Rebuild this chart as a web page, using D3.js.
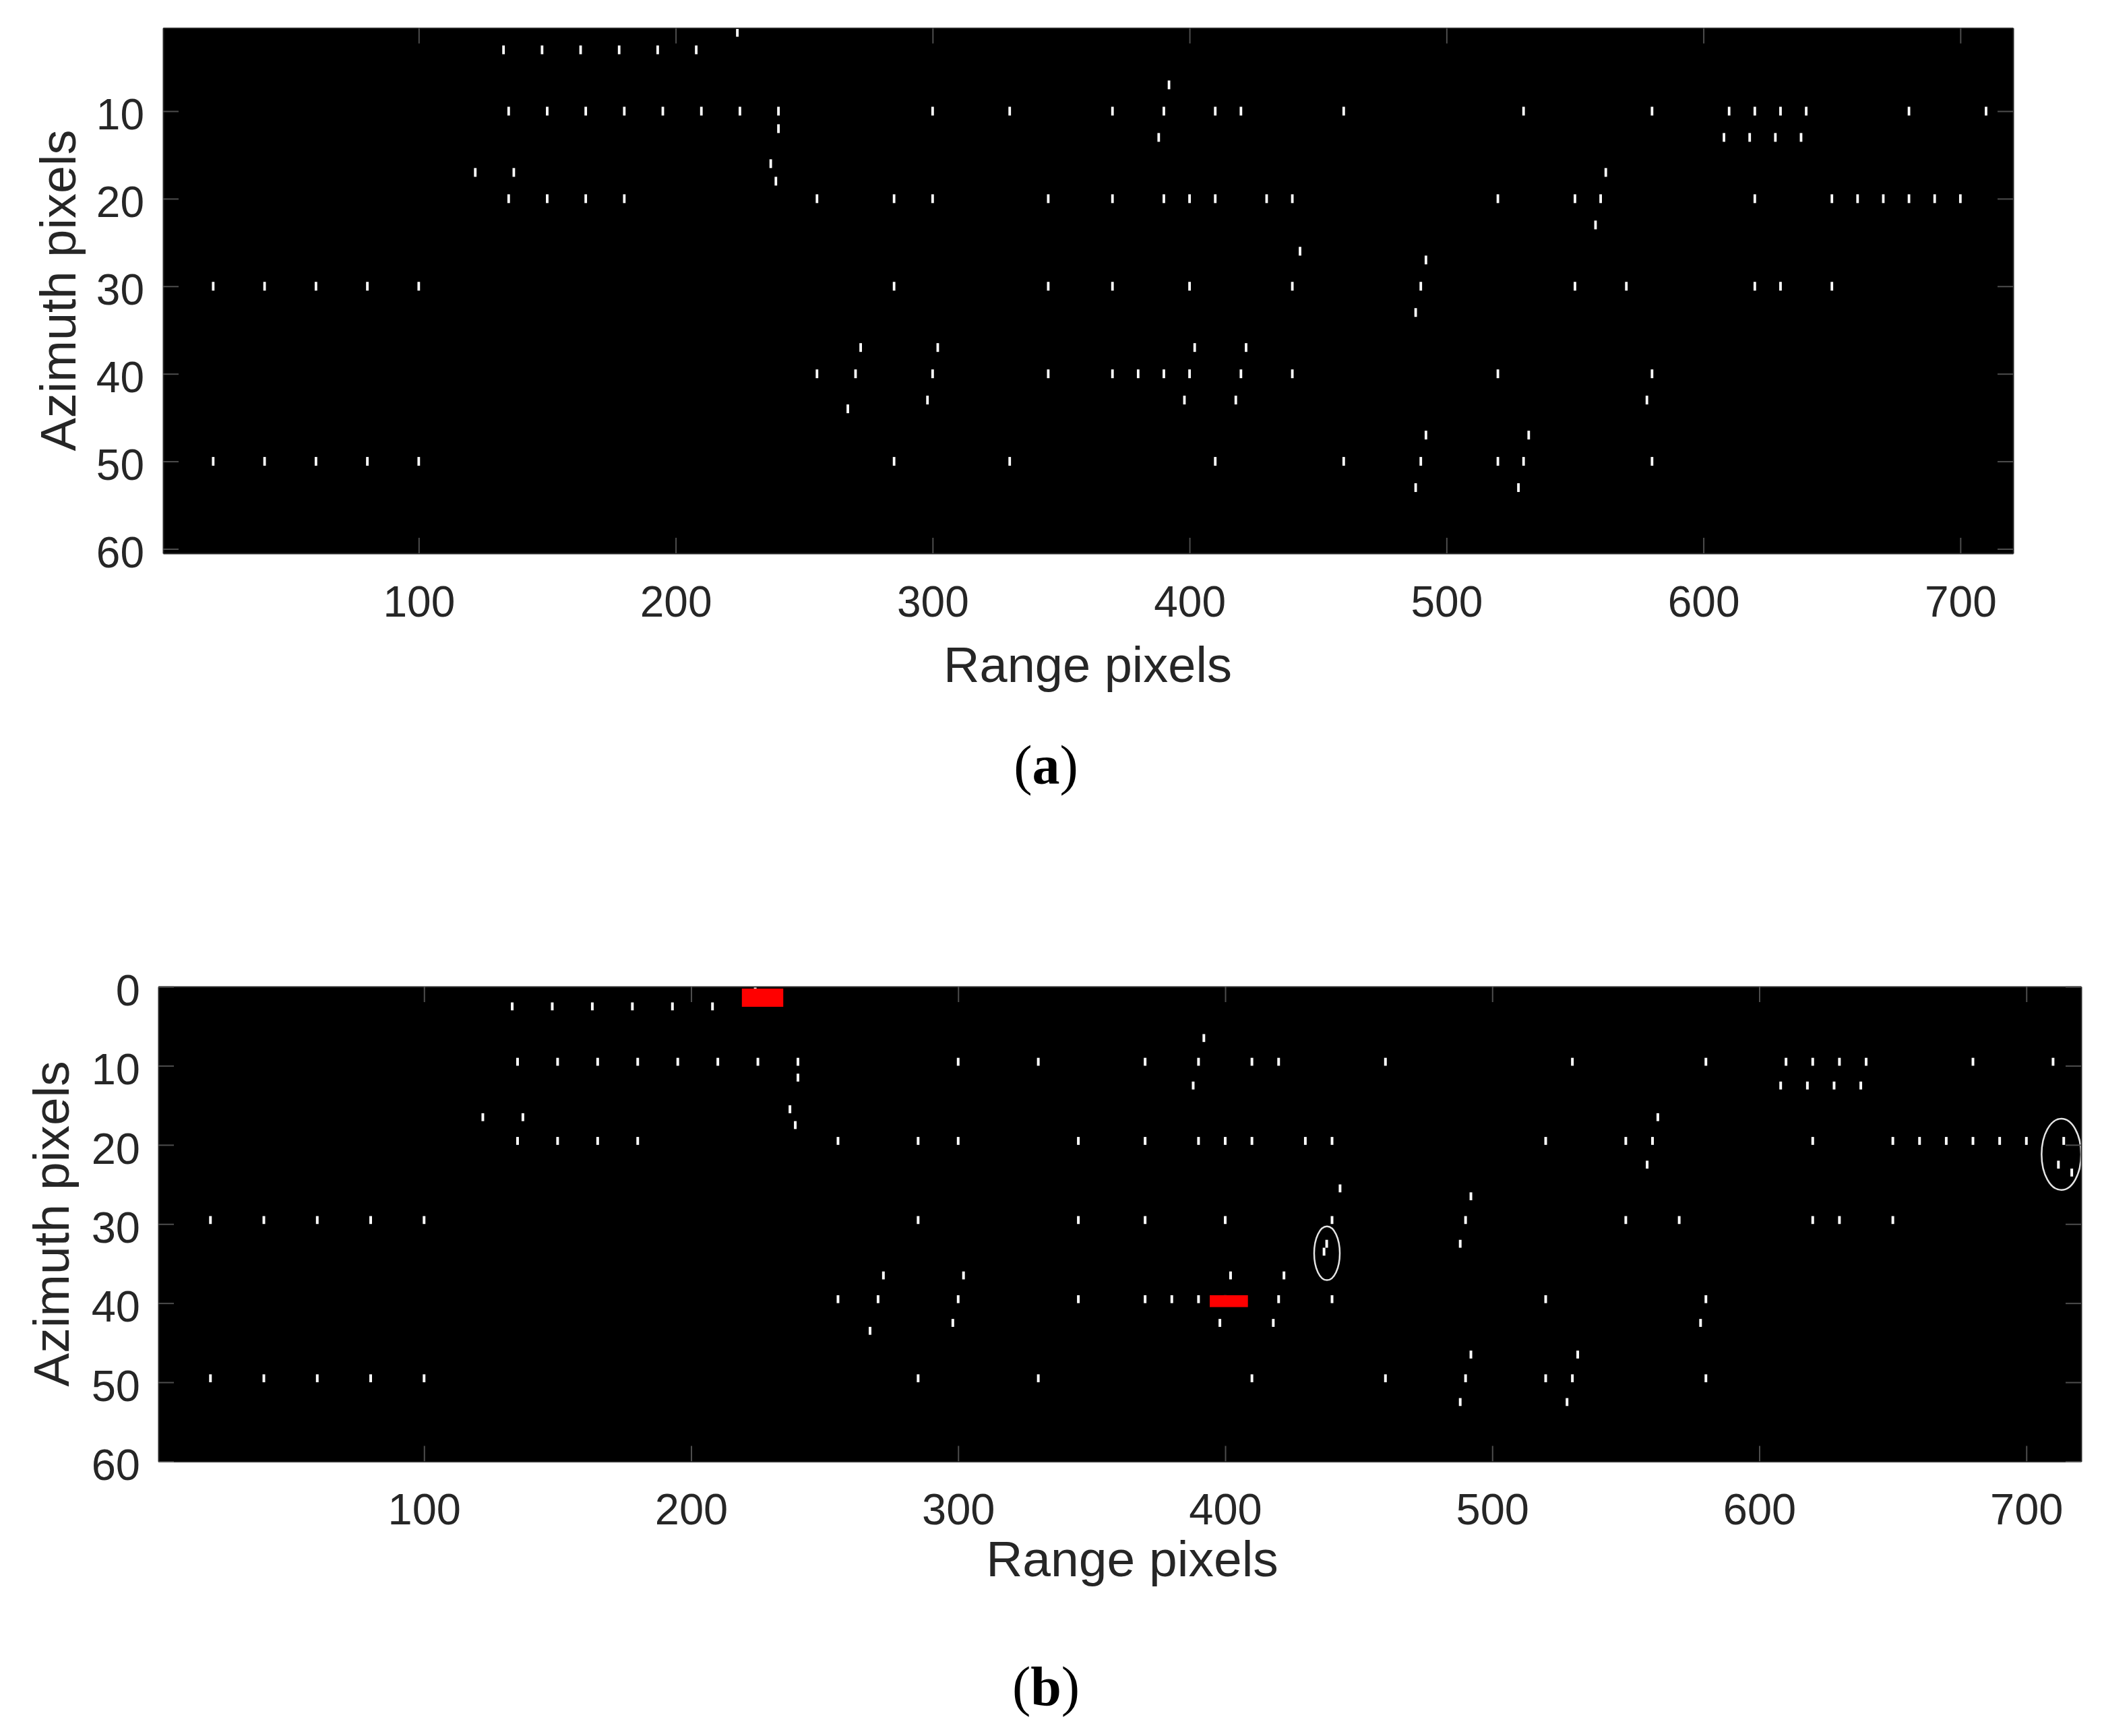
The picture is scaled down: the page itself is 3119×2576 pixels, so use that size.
<!DOCTYPE html>
<html>
<head>
<meta charset="utf-8">
<script src="https://cdn.jsdelivr.net/npm/d3@7"></script>
<style>
  body { margin: 0; background: #fff; }
  svg { display: block; }
</style>
</head>
<body>
<svg id="fig" width="3119" height="2576"></svg>
<script>
// axis ticks
var rangeTicks = [100, 200, 300, 400, 500, 600, 700];
var azTicksA = [10, 20, 30, 40, 50, 60];
var azTicksB = [0, 10, 20, 30, 40, 50, 60];

// bright pixels of panel (a): [range pixel, azimuth pixel]
var targetsA = [
  [224, 1],
  [133, 3], [148, 3], [163, 3], [178, 3], [193, 3], [208, 3],
  [392, 7],
  [135, 10], [150, 10], [165, 10], [180, 10], [195, 10], [210, 10], [225, 10], [240, 10],
  [300, 10], [330, 10], [370, 10], [390, 10], [410, 10], [420, 10], [460, 10], [530, 10],
  [580, 10], [610, 10], [620, 10], [630, 10], [640, 10], [680, 10], [710, 10],
  [240, 12],
  [388, 13], [608, 13], [618, 13], [628, 13], [638, 13],
  [237, 16],
  [122, 17], [137, 17], [562, 17],
  [239, 18],
  [135, 20], [150, 20], [165, 20], [180, 20], [255, 20], [285, 20], [300, 20], [345, 20],
  [370, 20], [390, 20], [400, 20], [410, 20], [430, 20], [440, 20], [520, 20], [550, 20],
  [560, 20], [620, 20], [650, 20], [660, 20], [670, 20], [680, 20], [690, 20], [700, 20],
  [558, 23],
  [443, 26],
  [492, 27],
  [20, 30], [40, 30], [60, 30], [80, 30], [100, 30], [285, 30], [345, 30], [370, 30],
  [400, 30], [440, 30], [490, 30], [550, 30], [570, 30], [620, 30], [630, 30], [650, 30],
  [488, 33],
  [272, 37], [302, 37], [402, 37], [422, 37],
  [255, 40], [270, 40], [300, 40], [345, 40], [370, 40], [380, 40], [390, 40], [400, 40],
  [420, 40], [440, 40], [520, 40], [580, 40],
  [298, 43], [398, 43], [418, 43], [578, 43],
  [267, 44],
  [492, 47], [532, 47],
  [20, 50], [40, 50], [60, 50], [80, 50], [100, 50], [285, 50], [330, 50], [410, 50],
  [460, 50], [490, 50], [520, 50], [530, 50], [580, 50],
  [488, 53], [528, 53]
];

// extra pixels that only show up in panel (b)
var newTargetsB = [[714, 20], [712, 23], [717, 24], [438, 33], [437, 34]];

// red boxes in (b): [range from, range to, azimuth from, azimuth to]
var redBoxesB = [[219, 234.5, 0.25, 2.55], [394.2, 408.5, 39.0, 40.5]];

// white ellipses in (b): [range centre, azimuth centre, range radius, azimuth radius]
var circlesB = [[438.1, 33.7, 4.8, 3.4], [713.1, 21.2, 7.4, 4.5]];

var svg = d3.select("#fig");
svg.append("rect").attr("width", 3119).attr("height", 2576).attr("fill", "#fff");

var sans = "'Liberation Sans', Arial, Helvetica, sans-serif";
var axisColor = "#262626";

function drawPanel(cfg) {
  var g = svg.append("g").attr("class", "panel " + cfg.name);

  var x = d3.scaleLinear().domain([0.5, 720.5]).range([cfg.left, cfg.right]),
      y = d3.scaleLinear().domain(cfg.yDomain).range([cfg.top, cfg.bottom]);

  g.append("clipPath").attr("id", "clip-" + cfg.name)
    .append("rect")
      .attr("x", cfg.left).attr("y", cfg.top)
      .attr("width", cfg.right - cfg.left).attr("height", cfg.bottom - cfg.top);

  // black image background
  g.append("rect")
      .attr("x", cfg.left).attr("y", cfg.top)
      .attr("width", cfg.right - cfg.left).attr("height", cfg.bottom - cfg.top)
      .attr("fill", "#000");

  // one white cell per bright pixel
  g.append("g").selectAll("rect")
      .data(cfg.points)
    .enter().append("rect")
      .attr("x", function(d) { return x(d[0] - 0.5); })
      .attr("width", function(d) { return x(d[0] + 0.5) - x(d[0] - 0.5); })
      .attr("y", function(d) { return y(d[1] - cfg.cellShift); })
      .attr("height", function(d) { return y(d[1] - cfg.cellShift + 1) - y(d[1] - cfg.cellShift); })
      .attr("fill", "#fff");

  var over = g.append("g").attr("clip-path", "url(#clip-" + cfg.name + ")");

  over.selectAll("rect.box")
      .data(cfg.boxes || [])
    .enter().append("rect")
      .attr("class", "box")
      .attr("x", function(d) { return x(d[0]); })
      .attr("width", function(d) { return x(d[1]) - x(d[0]); })
      .attr("y", function(d) { return y(d[2]); })
      .attr("height", function(d) { return y(d[3]) - y(d[2]); })
      .attr("fill", "#ff0000");

  over.selectAll("ellipse")
      .data(cfg.circles || [])
    .enter().append("ellipse")
      .attr("cx", function(d) { return x(d[0]); })
      .attr("cy", function(d) { return y(d[1]); })
      .attr("rx", function(d) { return x(d[0] + d[2]) - x(d[0]); })
      .attr("ry", function(d) { return y(d[1] + d[3]) - y(d[1]); })
      .attr("fill", "none")
      .attr("stroke", "#e4e4e4")
      .attr("stroke-width", 2.5);

  // axes, ticks point inward like matlab
  var tl = 23;
  var bottomAxis = g.append("g")
      .attr("transform", "translate(0," + cfg.bottom + ")")
      .call(d3.axisBottom(x).tickValues(rangeTicks).tickSizeInner(-tl).tickSizeOuter(0).tickPadding(cfg.xPad));
  var topAxis = g.append("g")
      .attr("transform", "translate(0," + cfg.top + ")")
      .call(d3.axisTop(x).tickValues(rangeTicks).tickSizeInner(-tl).tickSizeOuter(0).tickFormat(""));
  var leftAxis = g.append("g")
      .attr("transform", "translate(" + cfg.left + ",0)")
      .call(d3.axisLeft(y).tickValues(cfg.yTicks).tickSizeInner(-tl).tickSizeOuter(0).tickPadding(cfg.yPad));
  var rightAxis = g.append("g")
      .attr("transform", "translate(" + cfg.right + ",0)")
      .call(d3.axisRight(y).tickValues(cfg.yTicks).tickSizeInner(-tl).tickSizeOuter(0).tickFormat(""));

  [bottomAxis, topAxis, leftAxis, rightAxis].forEach(function(a) {
    a.attr("font-family", sans).attr("font-size", cfg.tickFont);
    a.selectAll(".tick line").attr("stroke", "#4d4d4d").attr("stroke-width", 2);
    a.select(".domain").attr("stroke", axisColor).attr("stroke-width", 2);
    a.selectAll("text").attr("fill", axisColor);
  });
  leftAxis.selectAll("text").attr("dy", "0.42em");

  g.append("text")
      .attr("x", cfg.xLabelX).attr("y", cfg.xLabelY)
      .attr("text-anchor", "middle")
      .attr("font-family", sans).attr("font-size", cfg.labelFont)
      .attr("fill", axisColor)
      .text("Range pixels");

  g.append("text")
      .attr("transform", "translate(" + cfg.yLabelX + "," + cfg.yLabelY + ") rotate(-90)")
      .attr("text-anchor", "middle")
      .attr("font-family", sans).attr("font-size", cfg.labelFont)
      .attr("fill", axisColor)
      .text("Azimuth pixels");

  var cap = g.append("text")
      .attr("x", cfg.capX).attr("y", cfg.capY)
      .attr("text-anchor", "middle")
      .attr("font-family", "'Liberation Serif', 'Times New Roman', serif")
      .attr("font-size", 82)
      .attr("fill", "#000");
  cap.append("tspan").text("(");
  cap.append("tspan").attr("font-weight", "bold").text(cfg.name);
  cap.append("tspan").text(")");
}

drawPanel({
  name: "a",
  left: 242, right: 2987, top: 41.5, bottom: 821,
  yDomain: [0.5, 60.5], yTicks: azTicksA, cellShift: 0.5,
  points: targetsA,
  tickFont: 64, labelFont: 74, xPad: 49, yPad: 28,
  xLabelX: 1614, xLabelY: 1012,
  yLabelX: 112, yLabelY: 431,
  capX: 1552, capY: 1163
});

drawPanel({
  name: "b",
  left: 235, right: 3088, top: 1464, bottom: 2168.5,
  yDomain: [0, 60], yTicks: azTicksB, cellShift: 1,
  points: targetsA.concat(newTargetsB),
  boxes: redBoxesB, circles: circlesB,
  tickFont: 65, labelFont: 75, xPad: 47, yPad: 27,
  xLabelX: 1680, xLabelY: 2339,
  yLabelX: 102, yLabelY: 1816,
  capX: 1552, capY: 2530
});
</script>
</body>
</html>
